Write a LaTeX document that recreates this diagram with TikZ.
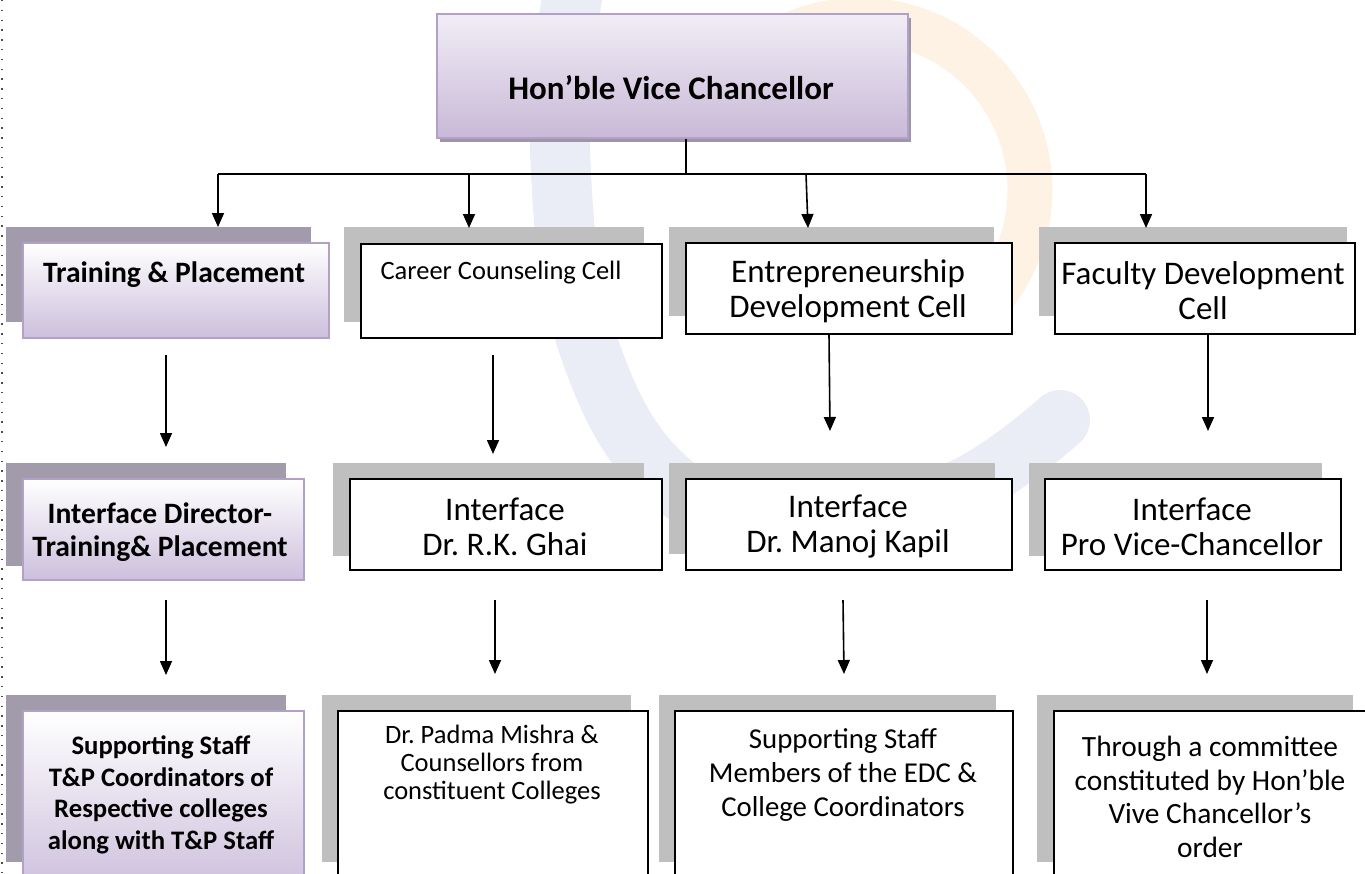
\documentclass[tikz,border=0pt]{standalone}
\usepackage{fontspec}
\setmainfont{Carlito}
\usetikzlibrary{arrows.meta}
\frenchspacing

\definecolor{lilac}{RGB}{204,191,220}
\definecolor{lilactop}{RGB}{241,237,246}
\definecolor{lilacdeep}{RGB}{201,185,215}
\definecolor{lilacedge}{RGB}{178,161,199}
\definecolor{lilacshade}{RGB}{162,155,171}
\definecolor{topshade}{RGB}{157,149,168}
\definecolor{greyshade}{RGB}{191,191,191}
\definecolor{wmblue}{RGB}{234,237,246}
\definecolor{wmorange}{RGB}{254,242,228}

\newcommand\fs[2]{\fontsize{#1pt}{#2pt}\selectfont}

\tikzset{
  box/.style={draw=black, line width=1.5pt, fill=white, anchor=north west, inner sep=0pt},
  lilacbox/.style={draw=lilacedge, line width=2pt, top color=white, bottom color=lilac, anchor=north west, inner sep=0pt},
  txt/.style={align=center, inner sep=0pt},
  arr/.style={line width=1.6pt, -{Triangle[width=12pt,length=14pt]}},
}

\begin{document}
\begin{tikzpicture}[x=1pt,y=-1pt]
\useasboundingbox (0,0) rectangle (1365,873);
\clip (0,0) rectangle (1365,873);

% faint logo behind the chart
\draw[wmblue, line width=60pt, line cap=round] plot[smooth, tension=0.7] coordinates {(575,-20) (560,150) (590,350) (680,490) (820,530) (960,490) (1060,420)};
\draw[wmorange, line width=45pt] (860,190) ++(200:170) arc[start angle=200, end angle=400, radius=170];

% page margin
\draw[black!70, line width=1.3pt, dash pattern=on 1.3pt off 8.5pt] (2,0) -- (2,873);

% head
\fill[topshade] (440,18) rectangle (911,142);
\node[lilacbox, top color=lilactop, bottom color=lilacdeep, minimum width=471pt, minimum height=124pt] (vc) at (436,13) {};
\node[txt, font=\fs{33}{35}\bfseries] (vctext) at (671,88) {Hon’ble Vice Chancellor};

% shadows
\fill[lilacshade] (6,227) rectangle (311,322);
\fill[greyshade] (344,227) rectangle (644,322);
\fill[greyshade] (669,227) rectangle (994,316);
\fill[greyshade] (1039,227) rectangle (1347,316);
\fill[lilacshade] (6,463) rectangle (286,566);
\fill[greyshade] (333,463) rectangle (644,556);
\fill[greyshade] (669,463) rectangle (995,554);
\fill[greyshade] (1029,463) rectangle (1322,556);
\fill[lilacshade] (6,695) rectangle (286,862);
\fill[greyshade] (322,695) rectangle (631,862);
\fill[greyshade] (659,695) rectangle (996,862);
\fill[greyshade] (1037,695) rectangle (1353,862);

% first row
\node[lilacbox, minimum width=306pt, minimum height=95pt] (tp) at (22,242) {};
\node[box, minimum width=301pt, minimum height=94pt] (cc) at (360,243) {};
\node[box, minimum width=326pt, minimum height=91pt] (edc) at (685,242) {};
\node[box, minimum width=300pt, minimum height=91pt] (fdc) at (1054,242) {};
\node[txt, font=\fs{29.6}{34}\bfseries] (tptext) at (174,275) {Training \& Placement};
\node[txt, font=\fs{26.5}{30}] (cctext) at (501,273) {Career Counseling Cell};
\node[txt, font=\fs{33}{35}] (edctext) at (848,291) {Entrepreneurship\\Development Cell};
\node[txt, font=\fs{33}{35}] (fdctext) at (1203,291) {Faculty Development\\Cell};

% second row
\node[lilacbox, minimum width=281pt, minimum height=101pt] (tpi) at (22,478) {};
\node[box, minimum width=312pt, minimum height=91pt] (ghai) at (349,478) {};
\node[box, minimum width=326pt, minimum height=91pt] (kapil) at (685,478) {};
\node[box, minimum width=296pt, minimum height=91pt] (pvc) at (1044,478) {};
\node[txt, font=\fs{29.6}{33}\bfseries] (tpitext) at (160,532) {Interface Director-\\Training\& Placement};
\node[txt, font=\fs{33}{35}] (ghaitext) at (505,527) {Interface\\Dr. R.K. Ghai};
\node[txt, font=\fs{33}{35}] (kapiltext) at (848,527) {Interface\\Dr. Manoj Kapil};
\node[txt, font=\fs{33}{35}] (pvctext) at (1192,527) {Interface\\Pro Vice-Chancellor};

% third row
\node[lilacbox, minimum width=281pt, minimum height=180pt] (tps) at (22,710) {};
\node[box, minimum width=310pt, minimum height=180pt] (pm) at (337,710) {};
\node[box, minimum width=338pt, minimum height=180pt] (edcs) at (674,710) {};
\node[box, minimum width=330pt, minimum height=180pt] (thr) at (1053,710) {};
\node[txt, font=\fs{26.7}{31.5}\bfseries] (tpstext) at (161,795) {Supporting Staff\\T\&P Coordinators of\\Respective colleges\\along with T\&P Staff};
\node[txt, font=\fs{26.5}{28}] (pmtext) at (492,765) {Dr. Padma Mishra \&\\Counsellors from\\constituent Colleges};
\node[txt, font=\fs{28.8}{34}] (edcstext) at (843,775) {Supporting Staff\\Members of the EDC \&\\College Coordinators};
\node[txt, font=\fs{29.4}{33.5}] (thrtext) at (1210,797) {Through a committee\\constituted by Hon’ble\\Vive Chancellor’s\\order};

% connectors
\coordinate (bus) at (686,174);
\coordinate (busL) at (218,174);
\coordinate (busR) at (1146,174);
\draw[line width=1.6pt] (vc.south -| bus) -- (bus);
\draw[line width=1.6pt] (busL) -- (busR);
\draw[arr] (busL) -- (busL |- 0,227);
\draw[arr] (469,174) -- (469,228);
\draw[arr] (806,174) -- (808,228);
\draw[arr] (busR) -- (busR |- 0,228);

\draw[arr] (166,355) -- (166,447);
\draw[arr] (493,355) -- (493,454);
\draw[arr] (edc.south -| 829,0) -- (830,431);
\draw[arr] (fdc.south -| 1208,0) -- (1208,431);

\draw[arr] (166,600) -- (166,675);
\draw[arr] (495,600) -- (495,674);
\draw[arr] (843,600) -- (844,674);
\draw[arr] (1207,600) -- (1207,674);
\end{tikzpicture}
\end{document}
